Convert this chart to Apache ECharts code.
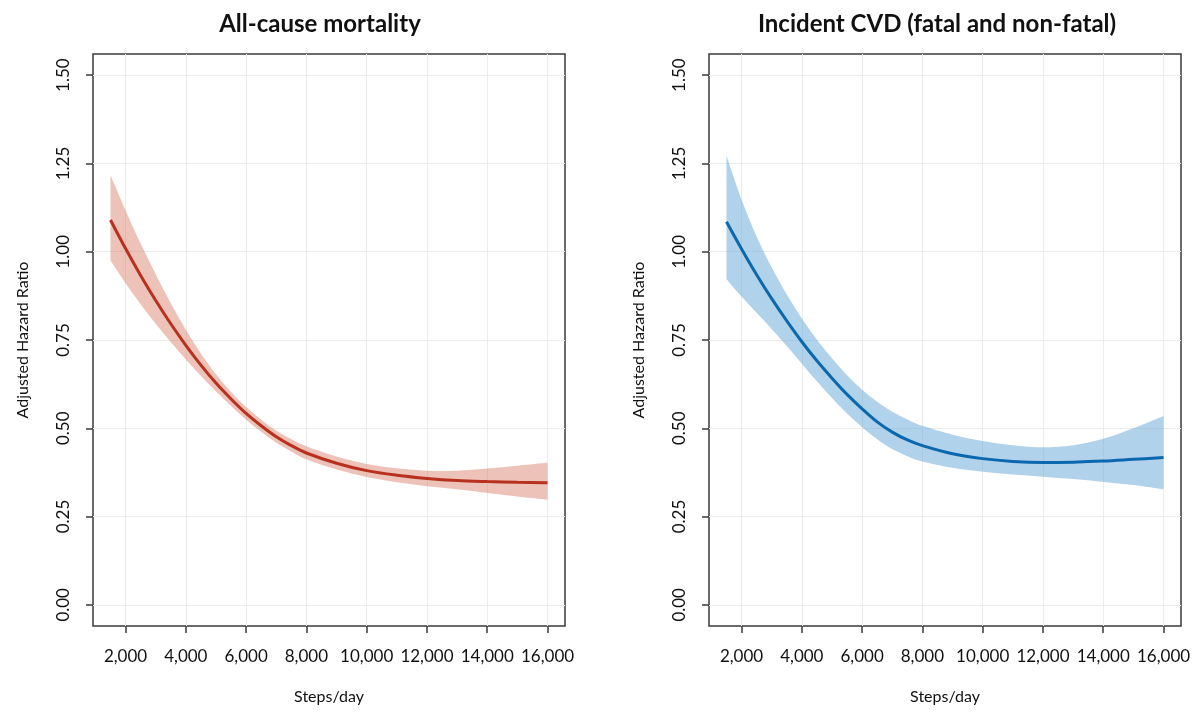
<!DOCTYPE html>
<html>
<head>
<meta charset="utf-8">
<script src="https://cdn.jsdelivr.net/npm/echarts@6/dist/echarts.min.js"></script>
<style>
html,body{margin:0;padding:0;background:#fff;}
#chart{width:1200px;height:722px;}
</style>
</head>
<body>
<div id="chart"></div>
<script>
const titles = ['All-cause mortality', 'Incident CVD (fatal and non-fatal)'];
const xTicks = [2000, 4000, 6000, 8000, 10000, 12000, 14000, 16000];
const yTicks = [0, 0.25, 0.5, 0.75, 1.0, 1.25, 1.5];
const steps = [1500,2000,2500,3000,3500,4000,4500,5000,5500,6000,6500,7000,7500,8000,9000,10000,11000,12000,13000,14000,15000,16000];

const mortHR    = [1.090,1.009,0.933,0.862,0.796,0.735,0.679,0.628,0.583,0.542,0.507,0.476,0.451,0.430,0.401,0.380,0.367,0.358,0.352,0.349,0.347,0.346];
const mortUpper = [1.217,1.117,1.023,0.936,0.854,0.779,0.712,0.653,0.603,0.560,0.524,0.493,0.469,0.449,0.420,0.399,0.387,0.380,0.380,0.386,0.394,0.402];
const mortLower = [0.975,0.911,0.851,0.796,0.744,0.695,0.649,0.604,0.563,0.524,0.490,0.459,0.434,0.412,0.383,0.362,0.347,0.336,0.327,0.317,0.307,0.298];

const cvdHR    = [1.085,1.008,0.935,0.867,0.804,0.745,0.691,0.642,0.596,0.555,0.518,0.489,0.467,0.451,0.428,0.414,0.406,0.403,0.404,0.407,0.412,0.417];
const cvdUpper = [1.272,1.148,1.043,0.955,0.879,0.811,0.751,0.698,0.650,0.609,0.575,0.547,0.525,0.507,0.482,0.464,0.452,0.446,0.452,0.470,0.500,0.535];
const cvdLower = [0.922,0.873,0.827,0.781,0.733,0.683,0.633,0.586,0.542,0.503,0.469,0.441,0.421,0.406,0.388,0.377,0.369,0.363,0.356,0.348,0.339,0.327];

const FONT = 'Lato, "Open Sans", sans-serif';
const AX = '#3a3a3a';

function xAxisCfg(idx) {
  return {
    type: 'value', gridIndex: idx, min: 920, max: 16580,
    name: 'Steps/day', nameLocation: 'middle', nameGap: 63,
    nameTextStyle: {fontFamily: FONT, fontSize: 16, color: '#111'},
    axisLine: {show: false, onZero: false},
    axisTick: {show: true, inside: false, length: 7, lineStyle: {color: AX, width: 1.5}, customValues: xTicks},
    axisLabel: {fontFamily: FONT, fontSize: 17, color: '#111', margin: 22, customValues: xTicks,
      formatter: v => v.toLocaleString('en-US'), showMinLabel: true, showMaxLabel: true},
    splitLine: {show: true, lineStyle: {color: '#ececec', width: 1}, customValues: xTicks}
  };
}
function yAxisCfg(idx) {
  return {
    type: 'value', gridIndex: idx, min: -0.06, max: 1.56,
    name: 'Adjusted Hazard Ratio', nameLocation: 'middle', nameGap: 62,
    nameTextStyle: {fontFamily: FONT, fontSize: 16, color: '#111'},
    axisLine: {show: false, onZero: false},
    axisTick: {show: true, inside: false, length: 7, lineStyle: {color: AX, width: 1.5}, customValues: yTicks},
    axisLabel: {fontFamily: FONT, fontSize: 17, color: '#111', margin: 21, rotate: 90, customValues: yTicks,
      formatter: v => v.toFixed(2)},
    splitLine: {show: true, lineStyle: {color: '#ececec', width: 1}, customValues: yTicks}
  };
}

// smooth cubic path through screen points (rendering only)
function smoothSeg(pts, first) {
  let d = (first ? 'M' : 'L') + pts[0][0] + ',' + pts[0][1];
  const s = 1 / 6;
  for (let i = 0; i < pts.length - 1; i++) {
    const p0 = pts[Math.max(i - 1, 0)], p1 = pts[i], p2 = pts[i + 1], p3 = pts[Math.min(i + 2, pts.length - 1)];
    const c1 = [p1[0] + (p2[0] - p0[0]) * s, p1[1] + (p2[1] - p0[1]) * s];
    const c2 = [p2[0] - (p3[0] - p1[0]) * s, p2[1] - (p3[1] - p1[1]) * s];
    d += 'C' + c1[0] + ',' + c1[1] + ' ' + c2[0] + ',' + c2[1] + ' ' + p2[0] + ',' + p2[1];
  }
  return d;
}

function bandSeries(idx, upper, lower, color) {
  return {
    type: 'custom', xAxisIndex: idx, yAxisIndex: idx, z: 2, silent: true,
    data: steps.map((s, i) => [s, upper[i], lower[i]]),
    encode: {x: 0, y: [1, 2]},
    renderItem: function (params, api) {
      if (params.dataIndex !== 0) return null;
      const up = [], lo = [];
      for (let i = 0; i < steps.length; i++) up.push(api.coord([steps[i], upper[i]]));
      for (let i = steps.length - 1; i >= 0; i--) lo.push(api.coord([steps[i], lower[i]]));
      const d = smoothSeg(up, true) + smoothSeg(lo, false) + 'Z';
      return {type: 'path', shape: {pathData: d}, style: {fill: color, stroke: null}};
    }
  };
}
function lineSeries(idx, vals, color) {
  return {
    type: 'line', xAxisIndex: idx, yAxisIndex: idx, z: 3, smooth: 0.35, symbol: 'none',
    data: steps.map((s, i) => [s, vals[i]]),
    lineStyle: {color: color, width: 3}
  };
}

const chart = echarts.init(document.getElementById('chart'), null, {renderer: 'canvas'});
chart.setOption({
  backgroundColor: '#ffffff',
  animation: false,
  title: [
    {text: titles[0], left: 320, top: 12, textAlign: 'center', padding: 0,
     textStyle: {fontFamily: FONT, fontSize: 24, fontWeight: 'bold', color: '#111'}},
    {text: titles[1], left: 937, top: 12, textAlign: 'center', padding: 0,
     textStyle: {fontFamily: FONT, fontSize: 24, fontWeight: 'bold', color: '#111'}}
  ],
  grid: [
    {left: 93, top: 54, width: 472, height: 572, show: true, borderColor: AX, borderWidth: 1.5, backgroundColor: 'transparent'},
    {left: 709, top: 54, width: 472, height: 572, show: true, borderColor: AX, borderWidth: 1.5, backgroundColor: 'transparent'}
  ],
  xAxis: [xAxisCfg(0), xAxisCfg(1)],
  yAxis: [yAxisCfg(0), yAxisCfg(1)],
  series: [
    bandSeries(0, mortUpper, mortLower, 'rgba(214,120,100,0.45)'),
    lineSeries(0, mortHR, '#b8311f'),
    bandSeries(1, cvdUpper, cvdLower, 'rgba(100,165,215,0.5)'),
    lineSeries(1, cvdHR, '#0a68ae')
  ]
});
</script>
</body>
</html>
